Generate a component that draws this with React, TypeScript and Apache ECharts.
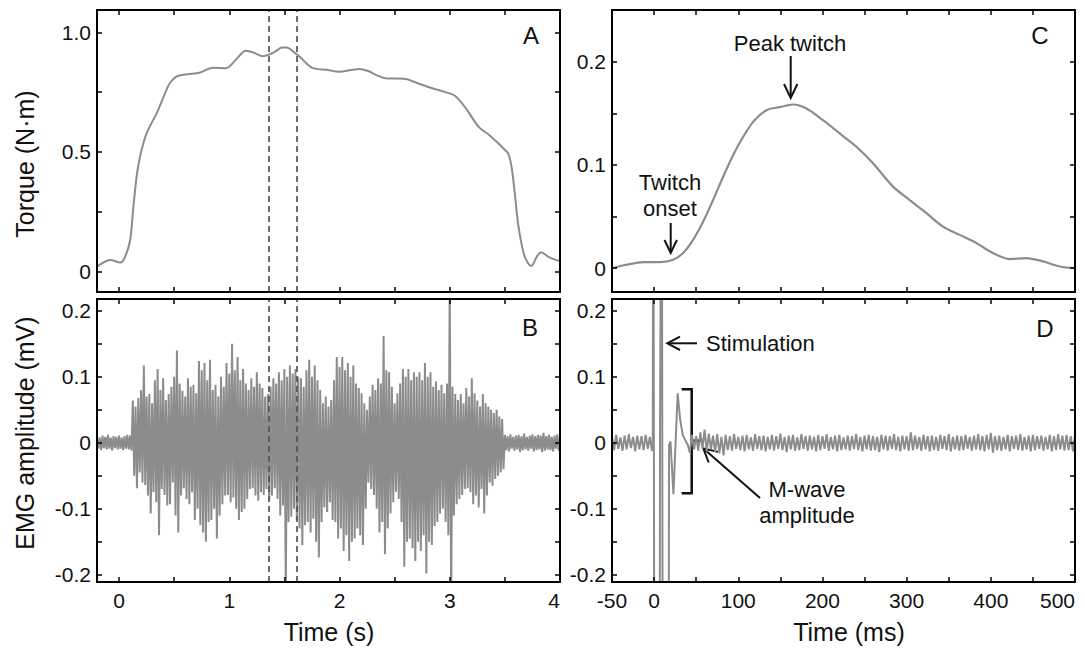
import React, { useEffect, useRef } from 'react';
import * as echarts from 'echarts';

const FONT = '"Liberation Sans", Arial, Helvetica, sans-serif';
const LINE = '#8c8c8c';
const INK = '#000';

// ---------- Panel A: torque (N·m) vs time (s) ----------
const torqueT = [-0.2, -0.08, 0.01, 0.05, 0.1, 0.13, 0.16, 0.19, 0.22, 0.25, 0.31, 0.34, 0.43, 0.46, 0.52, 0.62, 0.73, 0.85, 0.97, 1.06, 1.15, 1.22, 1.3, 1.4, 1.48, 1.52, 1.6, 1.64, 1.7, 1.76, 1.88, 2.0, 2.1, 2.18, 2.26, 2.34, 2.42, 2.6, 2.72, 2.84, 2.96, 3.05, 3.15, 3.26, 3.36, 3.44, 3.5, 3.53, 3.56, 3.59, 3.62, 3.67, 3.71, 3.74, 3.79, 3.83, 3.89, 3.98, 4.0];
const torqueV = [0.021, 0.049, 0.038, 0.057, 0.13, 0.27, 0.4, 0.48, 0.535, 0.578, 0.634, 0.66, 0.759, 0.787, 0.815, 0.825, 0.831, 0.852, 0.85, 0.885, 0.923, 0.915, 0.9, 0.915, 0.936, 0.936, 0.912, 0.898, 0.87, 0.85, 0.843, 0.835, 0.842, 0.847, 0.838, 0.82, 0.808, 0.805, 0.785, 0.766, 0.75, 0.734, 0.68, 0.606, 0.57, 0.536, 0.508, 0.494, 0.44, 0.327, 0.2, 0.077, 0.035, 0.024, 0.063, 0.081, 0.063, 0.046, 0.045];
const dashedTimes = [1.36, 1.61];

// ---------- Panel B: EMG (mV) vs time (s), upper / lower excursions per sample ----------
const emgStart = -0.2;
const emgStep = 0.025;
const emgUpper = [
  0.010, 0.008, 0.011, 0.009, 0.012, 0.008, 0.010, 0.009, 0.011, 0.008, 0.010, 0.012, 0.011,
  0.064, 0.055, 0.068, 0.080, 0.117, 0.070, 0.074, 0.060, 0.095, 0.112,
  0.080, 0.098, 0.065, 0.074, 0.085, 0.100, 0.140, 0.090, 0.079, 0.070,
  0.098, 0.085, 0.088, 0.075, 0.124, 0.110, 0.121, 0.095, 0.126, 0.080,
  0.088, 0.070, 0.100, 0.085, 0.121, 0.105, 0.150, 0.110, 0.130, 0.095,
  0.112, 0.090, 0.080, 0.098, 0.085, 0.107, 0.090, 0.083, 0.070, 0.074,
  0.085, 0.098, 0.090, 0.107, 0.095, 0.112, 0.100, 0.117, 0.105, 0.112,
  0.100, 0.098, 0.085, 0.110, 0.126, 0.100, 0.117, 0.095, 0.080, 0.060,
  0.070, 0.055, 0.065, 0.095, 0.130, 0.115, 0.130, 0.110, 0.121, 0.100,
  0.117, 0.090, 0.083, 0.075, 0.060, 0.050, 0.070, 0.088, 0.080, 0.098,
  0.090, 0.162, 0.110, 0.107, 0.085, 0.060, 0.075, 0.090, 0.112, 0.100,
  0.112, 0.095, 0.107, 0.100, 0.107, 0.095, 0.121, 0.100, 0.107, 0.085,
  0.093, 0.080, 0.088, 0.075, 0.090, 0.250, 0.085, 0.074, 0.065, 0.074,
  0.060, 0.083, 0.070, 0.098, 0.075, 0.064, 0.055, 0.074, 0.060, 0.055,
  0.050, 0.045, 0.050, 0.040, 0.036,
  0.012, 0.010, 0.013, 0.009, 0.011, 0.012, 0.010, 0.014, 0.009, 0.011, 0.013, 0.010, 0.012, 0.011, 0.015, 0.010, 0.012, 0.009, 0.011, 0.013, 0.010,
];
const emgLower = [
  -0.009, -0.011, -0.008, -0.010, -0.009, -0.012, -0.008, -0.010, -0.009, -0.011, -0.009, -0.010, -0.012,
  -0.050, -0.069, -0.045, -0.060, -0.064, -0.080, -0.107, -0.075, -0.090, -0.140,
  -0.070, -0.079, -0.095, -0.093, -0.060, -0.110, -0.136, -0.080, -0.069, -0.085,
  -0.093, -0.075, -0.117, -0.100, -0.125, -0.136, -0.150, -0.120, -0.117, -0.100,
  -0.145, -0.110, -0.093, -0.080, -0.079, -0.090, -0.083, -0.100, -0.117, -0.105,
  -0.100, -0.085, -0.070, -0.069, -0.080, -0.088, -0.075, -0.079, -0.070, -0.088,
  -0.080, -0.069, -0.085, -0.110, -0.095, -0.230, -0.120, -0.112, -0.100, -0.117,
  -0.130, -0.155, -0.125, -0.120, -0.136, -0.115, -0.150, -0.174, -0.120, -0.098,
  -0.105, -0.090, -0.117, -0.120, -0.145, -0.130, -0.164, -0.140, -0.179, -0.150,
  -0.145, -0.130, -0.140, -0.155, -0.100, -0.060, -0.070, -0.079, -0.100, -0.136,
  -0.120, -0.169, -0.130, -0.107, -0.090, -0.074, -0.085, -0.120, -0.188, -0.150,
  -0.145, -0.160, -0.179, -0.150, -0.164, -0.140, -0.198, -0.150, -0.155, -0.126,
  -0.120, -0.107, -0.100, -0.120, -0.140, -0.250, -0.110, -0.093, -0.085, -0.079,
  -0.070, -0.069, -0.075, -0.093, -0.080, -0.098, -0.070, -0.107, -0.080, -0.060,
  -0.065, -0.055, -0.050, -0.045, -0.040,
  -0.011, -0.013, -0.009, -0.012, -0.010, -0.014, -0.011, -0.010, -0.012, -0.009, -0.013, -0.011, -0.010, -0.014, -0.012, -0.010, -0.011, -0.013, -0.009, -0.012, -0.011,
];

// ---------- Panel C: twitch torque (N·m) vs time (ms) ----------
const twitchT = [-50, -33, -13, 7, 22.6, 34.4, 46.3, 58.2, 70, 82, 93.8, 105.7, 117.6, 133.5, 149.3, 165, 181, 200.7, 220.5, 240.4, 260, 283.8, 303.7, 323.5, 343.2, 363, 383, 402.6, 422.4, 442.3, 462, 481.8, 500];
const twitchV = [0.0, 0.0034, 0.006, 0.006, 0.0082, 0.0147, 0.0275, 0.045, 0.066, 0.0886, 0.1095, 0.127, 0.1417, 0.153, 0.156, 0.1585, 0.1546, 0.1433, 0.1305, 0.1176, 0.1016, 0.079, 0.066, 0.0533, 0.0403, 0.0323, 0.0243, 0.0147, 0.0089, 0.0098, 0.0066, 0.0017, 0.0];

// ---------- Panel D: EMG (mV) vs time (ms) ----------
const dNoiseStep = 5;
const dPreStart = -50;
const dPreUpper = [0.010, 0.012, 0.008, 0.011, 0.013, 0.009, 0.011, 0.010, 0.012, 0.009];
const dPreLower = [-0.011, -0.009, -0.012, -0.010, -0.008, -0.013, -0.010, -0.011, -0.009, -0.012];
const mwaveT = [-1.5, -1.0, 0.5, 6.5, 7.0, 9.0, 10.5, 17.0, 17.8, 19.5, 23.0, 28.0, 31.0, 34.0, 37.0, 40.0, 42.5];
const mwaveV = [0.0, 0.6, -0.6, -0.6, 0.0, 0.6, -0.6, -0.6, -0.003, 0.002, -0.078, 0.075, 0.035, 0.012, 0.004, -0.003, -0.015];
const dPostStart = 45;
const dPostUpper = [
  0.012, 0.010, 0.016, 0.020, 0.014, 0.011, 0.013, 0.009, 0.012, 0.010,
  0.013, 0.009, 0.011, 0.012, 0.008, 0.013, 0.010, 0.011, 0.009, 0.012,
  0.010, 0.014, 0.009, 0.011, 0.012, 0.008, 0.013, 0.010, 0.011, 0.009,
  0.012, 0.010, 0.013, 0.009, 0.011, 0.012, 0.008, 0.011, 0.010, 0.013,
  0.009, 0.011, 0.012, 0.010, 0.009, 0.012, 0.011, 0.010, 0.013, 0.009,
  0.011, 0.010, 0.016, 0.011, 0.009, 0.012, 0.010, 0.011, 0.009, 0.012,
  0.010, 0.013, 0.009, 0.011, 0.010, 0.012, 0.009, 0.011, 0.013, 0.010,
  0.012, 0.015, 0.010, 0.011, 0.009, 0.012, 0.010, 0.011, 0.013, 0.009,
  0.011, 0.012, 0.010, 0.011, 0.009, 0.012, 0.010, 0.013, 0.011, 0.012,
  0.010, 0.012,
];
const dPostLower = [
  -0.010, -0.012, -0.009, -0.013, -0.010, -0.014, -0.016, -0.019, -0.011, -0.012,
  -0.009, -0.011, -0.013, -0.010, -0.012, -0.009, -0.011, -0.013, -0.010, -0.012,
  -0.009, -0.011, -0.014, -0.010, -0.012, -0.011, -0.009, -0.012, -0.010, -0.013,
  -0.011, -0.009, -0.012, -0.010, -0.013, -0.011, -0.010, -0.012, -0.009, -0.011,
  -0.013, -0.010, -0.012, -0.011, -0.014, -0.010, -0.012, -0.009, -0.011, -0.013,
  -0.010, -0.012, -0.011, -0.009, -0.012, -0.010, -0.013, -0.011, -0.012, -0.009,
  -0.011, -0.013, -0.010, -0.012, -0.011, -0.009, -0.012, -0.010, -0.011, -0.013,
  -0.010, -0.015, -0.011, -0.012, -0.010, -0.013, -0.009, -0.011, -0.012, -0.010,
  -0.013, -0.011, -0.009, -0.012, -0.010, -0.013, -0.011, -0.010, -0.012, -0.011,
  -0.013, -0.010,
];

// ---------- axis ranges, ticks, labels ----------
const secRange = [-0.2, 4.0];
const msRange = [-50, 500];
const torqueRange = [-0.085, 1.093];
const emgRange = [-0.211, 0.218];
const twitchRange = [-0.023, 0.25];
const secTicks = [0, 0.5, 1, 1.5, 2, 2.5, 3, 3.5];
const secLabels = [0, 1, 2, 3, 4];
const msTicks = [0, 50, 100, 150, 200, 250, 300, 350, 400, 450];
const msLabels = [-50, 0, 100, 200, 300, 400, 500];
const torqueTicks = [0, 0.25, 0.5, 0.75, 1.0];
const torqueLabels = [0, 0.5, 1.0];
const emgTicks = [-0.2, -0.15, -0.1, -0.05, 0, 0.05, 0.1, 0.15, 0.2];
const emgLabels = [-0.2, -0.1, 0, 0.1, 0.2];
const twitchTicks = [0, 0.05, 0.1, 0.15, 0.2];
const twitchLabels = [0, 0.1, 0.2];

// ---------- layout (pixels) ----------
const GRIDS = [
  { left: 97, top: 10, width: 463, height: 282 },
  { left: 97, top: 299, width: 463, height: 283 },
  { left: 612, top: 10, width: 463, height: 282 },
  { left: 612, top: 299, width: 463, height: 283 },
];
const PANEL_X = [secRange, secRange, msRange, msRange];
const PANEL_Y = [torqueRange, emgRange, twitchRange, emgRange];
const PANEL_XT = [secTicks, secTicks, msTicks, msTicks];
const PANEL_YT = [torqueTicks, emgTicks, twitchTicks, emgTicks];

const zip = (xs: number[], ys: number[]) => xs.map((x, i) => [x, ys[i]]);
const interleave = (start: number, step: number, up: number[], lo: number[]) => {
  const out: number[][] = [];
  up.forEach((u, i) => {
    const t = start + i * step;
    out.push([t, u]);
    out.push([t + step / 2, lo[i]]);
  });
  return out;
};

const fmtDec = (v: number) => (Math.abs(v) < 1e-9 ? '0' : v.toFixed(1));
const fmtInt = (v: number) => String(Math.round(v));
const labelStyle = { fontSize: 21, color: '#111', fontFamily: FONT };

function xAxisFor(grid: number, range: number[], labels: number[] | null) {
  return {
    type: 'value', gridIndex: grid, min: range[0], max: range[1], position: 'bottom',
    splitLine: { show: false }, axisLine: { show: false, onZero: false }, axisTick: { show: false },
    axisLabel: labels
      ? { show: true, customValues: labels, formatter: fmtInt, margin: 8, alignMaxLabel: 'right', ...labelStyle }
      : { show: false },
  };
}
function yAxisFor(grid: number, range: number[], labels: number[]) {
  return {
    type: 'value', gridIndex: grid, min: range[0], max: range[1], position: 'left',
    splitLine: { show: false }, axisLine: { show: false, onZero: false }, axisTick: { show: false },
    axisLabel: { show: true, customValues: labels, formatter: fmtDec, margin: 6, ...labelStyle },
  };
}

const dashMark = {
  silent: true,
  symbol: ['none', 'none'],
  label: { show: false },
  lineStyle: { type: [6, 4], color: '#555', width: 1.7 },
  data: dashedTimes.map((t) => ({ xAxis: t })),
};

function txt(text: string, x: number, y: number, size: number, opts: any = {}) {
  return {
    type: 'text',
    x,
    y,
    rotation: opts.rotation || 0,
    style: {
      text,
      fill: '#111',
      fontSize: size,
      fontFamily: FONT,
      align: opts.align || 'center',
      textAlign: opts.align || 'center',
      verticalAlign: 'middle',
      textVerticalAlign: 'middle',
    },
  };
}
function pl(points: number[][], width = 2) {
  return { type: 'polyline', shape: { points }, style: { stroke: '#111', lineWidth: width, fill: null } };
}

const titles = [
  txt('Torque (N·m)', 25, 164, 25, { rotation: Math.PI / 2 }),
  txt('EMG amplitude (mV)', 25, 433, 25, { rotation: Math.PI / 2 }),
  txt('Time (s)', 329, 632, 25),
  txt('Time (ms)', 849, 632, 25),
  txt('A', 531, 35, 24),
  txt('B', 530, 327, 24),
  txt('C', 1040, 35, 24),
  txt('D', 1045, 328, 24),
];
const notesC = [
  txt('Peak twitch', 790, 43, 22),
  pl([[790.7, 56], [790.7, 97]]),
  pl([[784, 84], [790.7, 98], [797.4, 84]]),
  txt('Twitch', 670, 182, 22),
  txt('onset', 670, 208, 22),
  pl([[670.7, 223], [670.7, 252]]),
  pl([[664.5, 240], [670.7, 253], [676.9, 240]]),
];
const notesD = [
  txt('Stimulation', 706, 343, 22, { align: 'left' }),
  pl([[697, 343.3], [668.5, 343.3]]),
  pl([[680, 336.7], [667.3, 343.3], [680, 350]]),
  pl([[681.7, 389.3], [691.7, 389.3], [691.7, 493.3], [681.7, 493.3]], 2.5),
  pl([[691.7, 440.7], [702.7, 440.7]], 2.5),
  pl([[760, 498], [704, 449]]),
  pl([[708.7, 462.5], [703.3, 448.5], [717.9, 451.9]]),
  txt('M-wave', 807, 489, 22),
  txt('amplitude', 807, 515, 22),
];

// main chart: data, labels, annotations
function buildMainOption() {
  const dData = [
    ...interleave(dPreStart, dNoiseStep, dPreUpper, dPreLower),
    ...zip(mwaveT, mwaveV),
    ...interleave(dPostStart, dNoiseStep, dPostUpper, dPostLower),
  ];
  return {
    animation: false,
    backgroundColor: '#fff',
    grid: GRIDS.map((g) => ({ ...g, outerBoundsMode: 'none', containLabel: false })),
    xAxis: [
      xAxisFor(0, secRange, null),
      xAxisFor(1, secRange, secLabels),
      xAxisFor(2, msRange, null),
      xAxisFor(3, msRange, msLabels),
    ],
    yAxis: [
      yAxisFor(0, torqueRange, torqueLabels),
      yAxisFor(1, emgRange, emgLabels),
      yAxisFor(2, twitchRange, twitchLabels),
      yAxisFor(3, emgRange, emgLabels),
    ],
    series: [
      {
        type: 'line', xAxisIndex: 0, yAxisIndex: 0, data: zip(torqueT, torqueV), smooth: 0.3,
        showSymbol: false, lineStyle: { color: LINE, width: 2 }, markLine: dashMark,
      },
      {
        type: 'line', xAxisIndex: 1, yAxisIndex: 1, data: interleave(emgStart, emgStep, emgUpper, emgLower),
        showSymbol: false, lineStyle: { color: LINE, width: 2 }, markLine: dashMark,
      },
      {
        type: 'line', xAxisIndex: 2, yAxisIndex: 2, data: zip(twitchT, twitchV), smooth: 0.3,
        showSymbol: false, lineStyle: { color: LINE, width: 2.2 },
      },
      {
        type: 'line', xAxisIndex: 3, yAxisIndex: 3, data: dData,
        showSymbol: false, lineStyle: { color: LINE, width: 2 },
      },
    ],
    graphic: [
      { type: 'group', children: titles },
      { type: 'group', children: notesC },
      { type: 'group', children: notesD },
    ],
  };
}

// overlay chart: box frames and inward ticks on all four sides of every panel
function buildFrameOption() {
  const xAxes: any[] = [];
  const yAxes: any[] = [];
  GRIDS.forEach((_g, gi) => {
    const xr = PANEL_X[gi];
    const yr = PANEL_Y[gi];
    ['bottom', 'top'].forEach((pos) => {
      xAxes.push({
        type: 'value', gridIndex: gi, position: pos, min: xr[0], max: xr[1],
        splitLine: { show: false }, axisLabel: { show: false },
        axisLine: { show: true, onZero: false, lineStyle: { color: INK, width: 2 } },
        axisTick: { show: true, inside: true, length: 5, customValues: PANEL_XT[gi], lineStyle: { color: INK, width: 1.5 } },
      });
    });
    ['left', 'right'].forEach((pos) => {
      yAxes.push({
        type: 'value', gridIndex: gi, position: pos, min: yr[0], max: yr[1],
        splitLine: { show: false }, axisLabel: { show: false },
        axisLine: { show: true, onZero: false, lineStyle: { color: INK, width: 2 } },
        axisTick: { show: true, inside: true, length: 5, customValues: PANEL_YT[gi], lineStyle: { color: INK, width: 1.5 } },
      });
    });
  });
  return {
    animation: false,
    grid: GRIDS.map((g) => ({ ...g, show: true, borderColor: INK, borderWidth: 2, backgroundColor: 'transparent' })),
    xAxis: xAxes,
    yAxis: yAxes,
    series: [],
  };
}

export default function App() {
  const mainRef = useRef<HTMLDivElement>(null);
  const frameRef = useRef<HTMLDivElement>(null);
  useEffect(() => {
    if (!mainRef.current || !frameRef.current) return;
    const main = echarts.init(mainRef.current, null, { renderer: 'svg' });
    main.setOption(buildMainOption() as any);
    const frame = echarts.init(frameRef.current, null, { renderer: 'svg' });
    frame.setOption(buildFrameOption() as any);
    return () => {
      main.dispose();
      frame.dispose();
    };
  }, []);
  const box = { position: 'fixed' as const, left: 0, top: 0, width: 1085, height: 649 };
  return (
    <>
      <div ref={mainRef} style={{ ...box, background: '#fff', zIndex: 1 }} />
      <div ref={frameRef} style={{ ...box, zIndex: 2, pointerEvents: 'none' }} />
    </>
  );
}
